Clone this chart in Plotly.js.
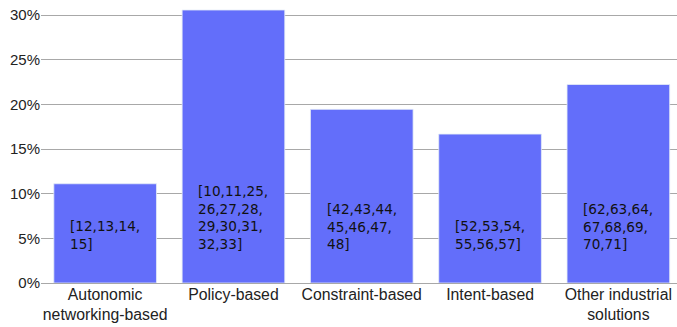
<!DOCTYPE html>
<html>
<head>
<meta charset="utf-8">
<script src="https://cdn.plot.ly/plotly-3.0.1.min.js"></script>
<style>html,body{margin:0;padding:0;background:#fff;}#chart{width:677px;height:327px;}</style>
</head>
<body>
<div id="chart"></div>
<script>
const categories = ["Autonomic<br>networking-based", "Policy-based", "Constraint-based", "Intent-based", "Other industrial<br>solutions"];
const shares = [11.11, 30.56, 19.44, 16.67, 22.22];
const refLabels = [
  "[12,13,14,<br>15]",
  "[10,11,25,<br>26,27,28,<br>29,30,31,<br>32,33]",
  "[42,43,44,<br>45,46,47,<br>48]",
  "[52,53,54,<br>55,56,57]",
  "[62,63,64,<br>67,68,69,<br>70,71]"
];
const yTicks = [0, 5, 10, 15, 20, 25, 30];

const idx = categories.map((_, i) => i);
const trace = {
  type: 'bar',
  x: idx,
  y: shares,
  marker: {color: '#636efa', line: {color: '#E5ECF6', width: 0.8}},
  hoverinfo: 'skip'
};
const annotations = idx.map(i => ({
  x: i, y: 3.3, xref: 'x', yref: 'y',
  xanchor: 'center', yanchor: 'bottom',
  text: refLabels[i], align: 'left', showarrow: false,
  font: {family: 'DejaVu Sans', size: 13.6, color: '#111'}
}));
const layout = {
  width: 677, height: 327,
  margin: {l: 41, r: 0, t: 0, b: 44},
  paper_bgcolor: '#fff', plot_bgcolor: '#fff',
  showlegend: false,
  bargap: 0.2,
  xaxis: {
    range: [-0.5, 4.457],
    tickmode: 'array', tickvals: idx, ticktext: categories,
    showgrid: false, zeroline: false, showline: false, ticks: '',
    tickfont: {family: 'Liberation Sans', size: 15.8, color: '#222'}
  },
  yaxis: {
    range: [0, 31.68],
    tickmode: 'array', tickvals: yTicks, ticktext: yTicks.map(v => v + '%'),
    showgrid: true, gridcolor: '#a8a8a8', gridwidth: 1,
    zeroline: true, zerolinecolor: '#a8a8a8', zerolinewidth: 1,
    showline: false, ticks: '',
    tickfont: {family: 'Liberation Sans', size: 15, color: '#222'}
  },
  annotations: annotations
};
Plotly.newPlot('chart', [trace], layout, {staticPlot: true, displayModeBar: false});
</script>
</body>
</html>
